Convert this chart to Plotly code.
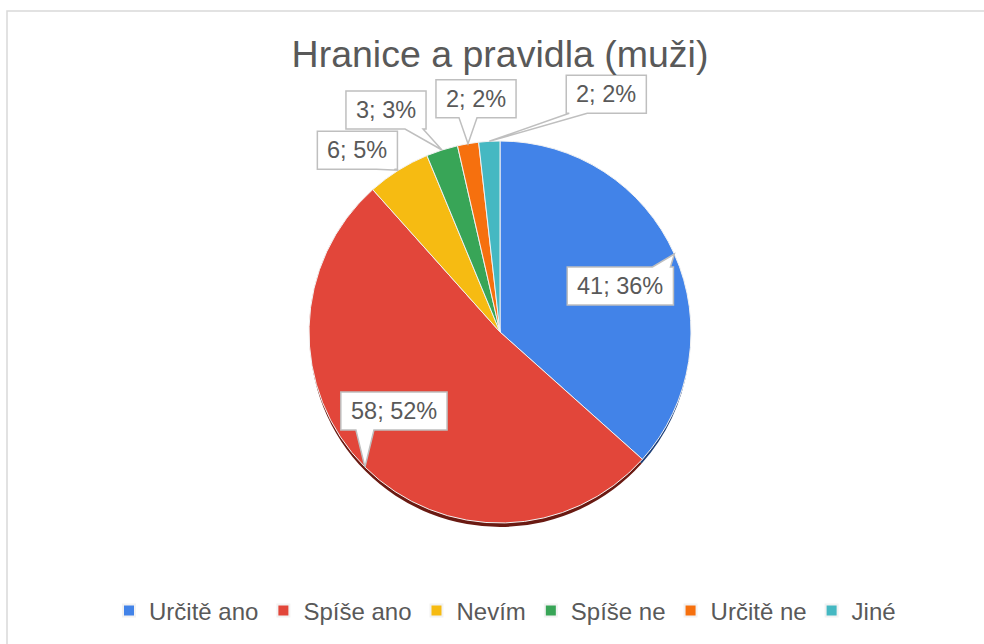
import math
import plotly.graph_objects as go

# ---- data ----
categories = ["Určitě ano", "Spíše ano", "Nevím", "Spíše ne", "Určitě ne", "Jiné"]
values = [41, 58, 6, 3, 2, 2]
percent_labels = ["36%", "52%", "5%", "3%", "2%", "2%"]
title_text = "Hranice a pravidla (muži)"

# ---- style / layout ----
W, H = 984, 644
colors = ["#4283E8", "#E2463A", "#F6BB12", "#38A557", "#F6700E", "#45B8C2"]
shadow_colors = ["#1e3f78", "#6a1a12", "#7a5a02", "#17502a", "#7a3400", "#1f5a5f"]
CX, CY, R = 500, 332, 191          # pie centre / radius in pixels
SHADOW_DY = 5
FONT = "Liberation Sans, Arial, sans-serif"
TXT = "#595959"
LABEL_SIZE = 23.5
# offset of label box centre relative to the slice's edge point (pixels)
label_offsets = [(-54, 32), (29, -56), (-41, -20), (-56, -40), (8, -45), (117, -47)]


def px(x, y):
    return x / W, 1 - y / H


def dom(cx, cy, r):
    return dict(x=[(cx - r) / W, (cx + r) / W], y=[1 - (cy + r) / H, 1 - (cy - r) / H])


fig = go.Figure()
# shadow
fig.add_trace(go.Pie(labels=categories, values=values, sort=False, direction="clockwise",
                     marker=dict(colors=shadow_colors), textinfo="none", hoverinfo="skip",
                     showlegend=False, domain=dom(CX, CY + SHADOW_DY, R - 1)))
fig.add_trace(go.Pie(labels=categories, values=values, sort=False, direction="clockwise",
                     marker=dict(colors=colors, line=dict(color="#f2f2f2", width=1)),
                     textinfo="none", domain=dom(CX, CY, R)))

# char widths (em) for box sizing
cw = {d: 0.556 for d in "0123456789"}
cw.update({";": 0.278, " ": 0.278, "%": 0.889})

total = sum(values)
cum = 0
shapes = [dict(type="rect", xref="paper", yref="paper", x0=7 / W, y0=1 - 11 / H, x1=1.02, y1=-0.02,
               line=dict(color="#d9d9d9", width=1.5), fillcolor="rgba(0,0,0,0)", layer="below")]
annotations = []
for i, v in enumerate(values):
    mid = (cum + v / 2) / total * 2 * math.pi
    cum += v
    tx = CX + R * math.sin(mid)
    ty = CY - R * math.cos(mid)
    text = f"{v}; {percent_labels[i]}"
    tw = sum(cw.get(c, 0.556) for c in text) * LABEL_SIZE
    bw, bh = tw + 20, 38
    bcx, bcy = tx + label_offsets[i][0], ty + label_offsets[i][1]
    x0, x1, y0, y1 = bcx - bw / 2, bcx + bw / 2, bcy - bh / 2, bcy + bh / 2
    hw = 9
    if ty > y1:      # tip below box
        c = min(max(tx, x0 + hw + 3), x1 - hw - 3)
        pts = [(x0, y0), (x1, y0), (x1, y1), (c + hw, y1), (tx, ty), (c - hw, y1), (x0, y1)]
    elif ty < y0:    # tip above box
        c = min(max(tx, x0 + hw + 3), x1 - hw - 3)
        pts = [(x0, y0), (c - hw, y0), (tx, ty), (c + hw, y0), (x1, y0), (x1, y1), (x0, y1)]
    elif tx > x1:
        c = min(max(ty, y0 + hw + 3), y1 - hw - 3)
        pts = [(x0, y0), (x1, y0), (x1, c - hw), (tx, ty), (x1, c + hw), (x1, y1), (x0, y1)]
    else:
        c = min(max(ty, y0 + hw + 3), y1 - hw - 3)
        pts = [(x0, y0), (x1, y0), (x1, y1), (x0, y1), (x0, c + hw), (tx, ty), (x0, c - hw)]
    path = "M" + " L".join("{:.5f},{:.5f}".format(*px(a, b)) for a, b in pts) + " Z"
    shapes.append(dict(type="path", xref="paper", yref="paper", path=path,
                       fillcolor="white", line=dict(color="#bfbfbf", width=1.5), layer="above"))
    ax, ay = px(bcx, bcy)
    annotations.append(dict(x=ax, y=ay, xref="paper", yref="paper", text=text, showarrow=False,
                            font=dict(family=FONT, size=LABEL_SIZE, color=TXT),
                            xanchor="center", yanchor="middle"))

fig.update_layout(
    width=W, height=H, margin=dict(l=0, r=0, t=0, b=0),
    paper_bgcolor="white", plot_bgcolor="white",
    title=dict(text=title_text, x=500 / W, xanchor="center", y=1 - 54 / H, yanchor="middle",
               font=dict(family=FONT, size=37.5, color=TXT)),
    legend=dict(orientation="h", x=505 / W, xanchor="center", y=1 - 611 / H, yanchor="middle",
                font=dict(family=FONT, size=24, color=TXT), traceorder="normal",
                itemwidth=30, itemsizing="constant"),
    shapes=shapes, annotations=annotations,
)

fig.write_html("out.html", config={"displayModeBar": False},
               post_script="document.body.style.margin='0';")
